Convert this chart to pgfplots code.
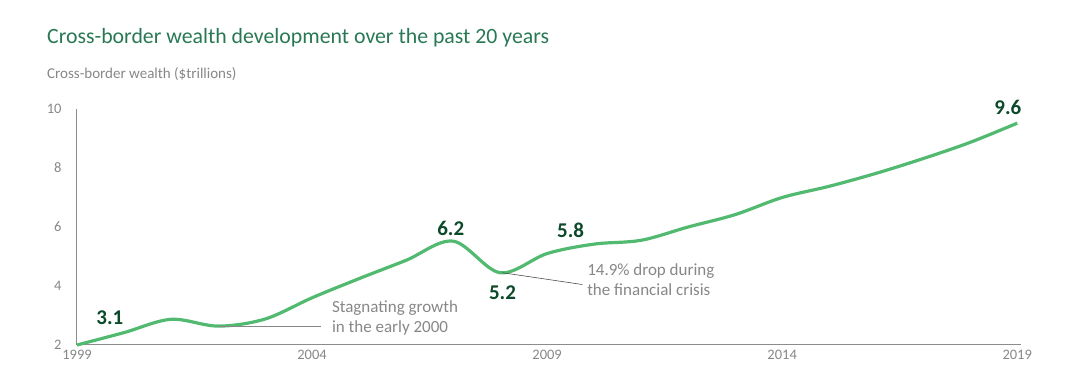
\documentclass[border=0pt]{standalone}
\usepackage{pgfplots}
\pgfplotsset{compat=1.18}
\usepackage{fontspec}
\setmainfont{Carlito}
\definecolor{linegreen}{RGB}{82,186,112}
\definecolor{darkgreen}{RGB}{12,74,42}
\definecolor{titlegreen}{RGB}{40,120,85}
\definecolor{txtgray}{RGB}{135,135,135}
\definecolor{axgray}{RGB}{140,140,140}
\begin{document}
\begin{tikzpicture}[x=1pt,y=1pt]
\useasboundingbox (-77,-42) rectangle (1003,345);
\node[anchor=base west, text=titlegreen, font=\fontsize{21.8}{24}\selectfont, inner sep=0pt] at (-30,301) {Cross-border wealth development over the past 20 years};
\node[anchor=base west, text=txtgray, font=\fontsize{15}{17}\selectfont, inner sep=0pt] at (-30,266) {Cross-border wealth (\$trillions)};
\begin{axis}[
  scale only axis, width=944pt, height=236pt,
  xmin=1999, xmax=2019.08, ymin=2, ymax=10,
  axis x line=bottom, axis y line=left,
  axis line style={axgray, line width=1pt, -},
  xtick={1999,2004,2009,2014,2019},
  ytick={2,4,6,8,10},
  major tick length=0pt,
  xticklabel style={text=txtgray, font=\fontsize{14.5}{16}\selectfont, yshift=-2pt},
  yticklabel style={text=txtgray, font=\fontsize{14.5}{16}\selectfont, xshift=-12pt},
  /pgf/number format/assume math mode=true,
  /pgf/number format/1000 sep={},
  clip=false,
]
\addplot[linegreen, line width=3.2pt, smooth, tension=0.55] coordinates {
(1999,2.0) (2000,2.42) (2001,2.87) (2002,2.64) (2003,2.88) (2004,3.6)
(2005,4.25) (2006,4.87) (2007,5.52) (2008,4.45) (2009,5.1) (2010,5.42)
(2011,5.55) (2012,6.0) (2013,6.42) (2014,7.0) (2015,7.38) (2016,7.82)
(2017,8.32) (2018,8.87) (2019,9.52)
};
\draw[txtgray, line width=0.8pt] (axis cs:2002,2.64) -- (axis cs:2004.2,2.64);
\draw[black!70, line width=0.6pt] (axis cs:2008.05,4.45) -- (axis cs:2009.75,4.05);
\node[text=darkgreen, font=\bfseries\fontsize{21}{23}\selectfont] at (axis cs:1999.7,2.92) {3.1};
\node[text=darkgreen, font=\bfseries\fontsize{21}{23}\selectfont] at (axis cs:2006.95,5.95) {6.2};
\node[text=darkgreen, font=\bfseries\fontsize{21}{23}\selectfont] at (axis cs:2008.05,3.78) {5.2};
\node[text=darkgreen, font=\bfseries\fontsize{21}{23}\selectfont] at (axis cs:2009.5,5.9) {5.8};
\node[text=darkgreen, font=\bfseries\fontsize{21}{23}\selectfont] at (axis cs:2018.8,10.05) {9.6};
\node[anchor=west, align=left, text=txtgray, font=\fontsize{17}{20}\selectfont, inner sep=0pt] at (axis cs:2004.42,2.93) {Stagnating growth\\in the early 2000};
\node[anchor=west, align=left, text=txtgray, font=\fontsize{17}{20}\selectfont, inner sep=0pt] at (axis cs:2009.85,4.2) {14.9\% drop during\\the financial crisis};
\end{axis}
\end{tikzpicture}
\end{document}
